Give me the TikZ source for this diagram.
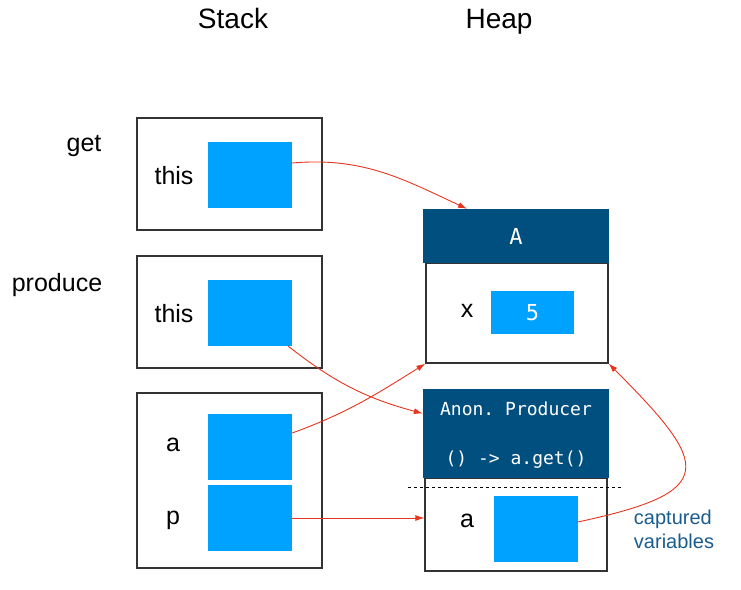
\documentclass[tikz,border=0pt]{standalone}
\usepackage{fontspec}
\setmainfont{Liberation Sans}
\setmonofont{DejaVu Sans Mono}
\usepackage{tikz}
\usetikzlibrary{positioning}
\usetikzlibrary{arrows.meta}
\tikzset{>=stealth}
\definecolor{heapblue}{RGB}{0,79,127}
\definecolor{slotblue}{RGB}{0,162,255}
\definecolor{ptrred}{RGB}{232,52,28}
\definecolor{notecol}{RGB}{26,92,142}
\tikzstyle{frame} = [draw=black!80, line width=1.2pt, inner sep=0pt]
\tikzstyle{slot} = [fill=slotblue, inner sep=0pt, minimum width=84pt,
minimum height=66pt]
\tikzstyle{line} = [draw=ptrred, line width=0.9pt, -{Latex[length=9pt,width=6pt]}]

\begin{document}
\begin{tikzpicture}[x=1pt, y=1pt,
  lbl/.style={font=\fontsize{25}{30}\selectfont, inner sep=0pt},
  head/.style={fill=heapblue, inner sep=0pt, text=white,
  font=\ttfamily\fontsize{18}{22}\selectfont}]
  \useasboundingbox (0,0) rectangle (741,-589);
  %% Titles
  \node[anchor=base, font=\fontsize{28}{32}\selectfont] (T_stack) at (233,-28) {Stack};
  \node[anchor=base, font=\fontsize{28}{32}\selectfont] (T_heap) at (499,-28) {Heap};
  \node[lbl] (L_get) at (84,-146) {get};
  \node[lbl] (L_prod) at (57,-285) {produce};
  %% Stack frames
  \node [frame, minimum width=185pt, minimum height=112pt] (F_get) at (229.5,-174) {};
  \node [slot] (S_get) at (250,-175) {};
  \node [lbl] (L_this1) at (174,-176) {this};
  \node [frame, minimum width=185pt, minimum height=112pt] (F_prod) at (229.5,-312) {};
  \node [slot] (S_prod) at (250,-313) {};
  \node [lbl] (L_this2) at (174,-314) {this};
  \node [frame, minimum width=185pt, minimum height=175pt] (F_main) at (229.5,-480.5) {};
  \node [slot] (S_a) at (250,-447) {};
  \node [slot] (S_p) at (250,-518) {};
  \node [lbl] (L_a) at (173,-445) {a};
  \node [lbl] (L_p) at (173,-520) {p};
  %% Heap objects
  \node [frame, minimum width=182pt, minimum height=100pt] (A_body) at (517,-313) {};
  \node [head, minimum width=186pt, minimum height=54pt,
  font=\ttfamily\fontsize{22}{26}\selectfont] (A_head) at (516,-236) {A};
  \node [lbl] (L_x) at (467,-311) {x};
  \node [slot, minimum width=83pt, minimum height=43pt, text=white,
  font=\ttfamily\fontsize{22}{26}\selectfont] (S_x) at (532.5,-312.5) {5};
  \node [frame, minimum width=182pt, minimum height=93pt] (P_body) at (516,-524.5) {};
  \node [head, minimum width=186pt, minimum height=89pt] (P_head) at (516,-433.5) {};
  \node [head] (P_name) at (516,-409) {Anon. Producer};
  \node [head] (P_code) at (516,-460) {() -> a.get()};
  \node [lbl] (L_cap) at (467,-521) {a};
  \node [slot] (S_cap) at (535.5,-529) {};
  \coordinate (D_l) at (408,-487);
  \coordinate (D_r) at (622,-487);
  \draw [dashed, line width=0.8pt] (D_l) -- (D_r);
  \node [text=notecol, align=left, inner sep=0pt,
  font=\fontsize{20}{24}\selectfont] (N_cap) at (674,-529) {captured\\variables};
  %% Arrows
  \path [line] ([yshift=12pt]S_get.east) to[out=5, in=155] ([xshift=-49pt]A_head.north);
  \path [line] ([xshift=-4pt]S_prod.south east) to[out=-38, in=165] ([yshift=20pt]P_head.west);
  \path [line] ([yshift=14pt]S_a.east) to[out=20, in=-148] (A_body.south west);
  \path [line] (S_p.east) -- (S_p.east -| P_body.west);
  \path [line] ([yshift=7pt]S_cap.east) to[out=12, in=-45, looseness=2.3] (A_body.south east);
\end{tikzpicture}
\end{document}
